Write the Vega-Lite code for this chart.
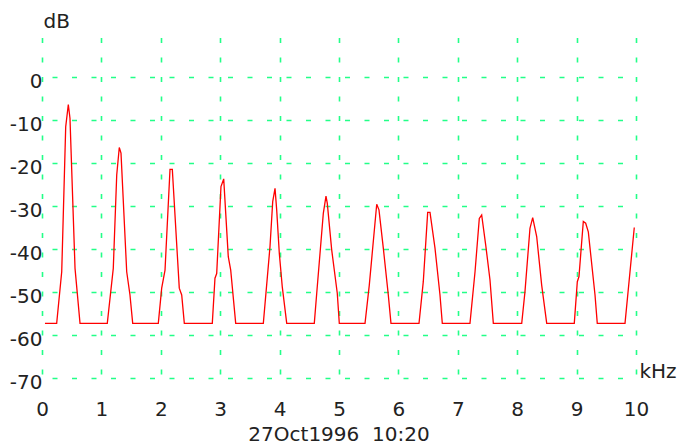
{
  "$schema": "https://vega.github.io/schema/vega-lite/v6.json",
  "width": 594,
  "height": 344,
  "autosize": {"type": "none"},
  "padding": {"left": 42, "top": 34, "right": 43, "bottom": 69},
  "background": "white",
  "config": {
    "view": {"stroke": null},
    "font": "DejaVu Sans"
  },
  "title": {
    "text": "27Oct1996\u00a0 10:20",
    "orient": "bottom",
    "anchor": "middle",
    "frame": "group",
    "fontSize": 20,
    "fontWeight": "normal",
    "font": "DejaVu Sans",
    "color": "#222222",
    "offset": 6
  },
  "data": {
    "values": [
      {"f": 0.05, "db": -57.3},
      {"f": 0.247, "db": -57.3},
      {"f": 0.332, "db": -45.3},
      {"f": 0.399, "db": -11.6},
      {"f": 0.443, "db": -6.4},
      {"f": 0.471, "db": -9.6},
      {"f": 0.556, "db": -44.5},
      {"f": 0.64, "db": -57.3},
      {"f": 1.099, "db": -57.3},
      {"f": 1.2, "db": -44.5},
      {"f": 1.258, "db": -22.8},
      {"f": 1.301, "db": -16.4},
      {"f": 1.33, "db": -17.7},
      {"f": 1.426, "db": -45.3},
      {"f": 1.481, "db": -50.7},
      {"f": 1.527, "db": -57.3},
      {"f": 1.958, "db": -57.3},
      {"f": 2.015, "db": -49.1},
      {"f": 2.071, "db": -44.9},
      {"f": 2.155, "db": -21.5},
      {"f": 2.194, "db": -21.5},
      {"f": 2.311, "db": -49.1},
      {"f": 2.352, "db": -50.7},
      {"f": 2.396, "db": -57.3},
      {"f": 2.867, "db": -57.3},
      {"f": 2.912, "db": -46.8},
      {"f": 2.941, "db": -45.7},
      {"f": 3.013, "db": -25.5},
      {"f": 3.059, "db": -23.7},
      {"f": 3.136, "db": -41.8},
      {"f": 3.177, "db": -44.9},
      {"f": 3.261, "db": -57.3},
      {"f": 3.726, "db": -57.3},
      {"f": 3.838, "db": -39.5},
      {"f": 3.884, "db": -29.0},
      {"f": 3.923, "db": -25.9},
      {"f": 3.951, "db": -30.9},
      {"f": 3.995, "db": -41.0},
      {"f": 4.045, "db": -48.8},
      {"f": 4.12, "db": -57.3},
      {"f": 4.584, "db": -57.3},
      {"f": 4.625, "db": -50.3},
      {"f": 4.736, "db": -31.7},
      {"f": 4.781, "db": -27.7},
      {"f": 4.803, "db": -29.4},
      {"f": 4.877, "db": -40.2},
      {"f": 4.971, "db": -50.3},
      {"f": 5.005, "db": -57.3},
      {"f": 5.438, "db": -57.3},
      {"f": 5.51, "db": -48.4},
      {"f": 5.635, "db": -29.6},
      {"f": 5.673, "db": -30.9},
      {"f": 5.746, "db": -39.8},
      {"f": 5.83, "db": -50.7},
      {"f": 5.875, "db": -57.3},
      {"f": 6.347, "db": -57.3},
      {"f": 6.419, "db": -47.6},
      {"f": 6.493, "db": -31.5},
      {"f": 6.532, "db": -31.5},
      {"f": 6.616, "db": -39.8},
      {"f": 6.7, "db": -50.7},
      {"f": 6.739, "db": -57.3},
      {"f": 7.205, "db": -57.3},
      {"f": 7.29, "db": -45.3},
      {"f": 7.362, "db": -32.9},
      {"f": 7.402, "db": -32.1},
      {"f": 7.47, "db": -39.1},
      {"f": 7.542, "db": -47.2},
      {"f": 7.598, "db": -57.3},
      {"f": 8.076, "db": -57.3},
      {"f": 8.131, "db": -49.9},
      {"f": 8.215, "db": -35.2},
      {"f": 8.261, "db": -32.7},
      {"f": 8.328, "db": -37.1},
      {"f": 8.412, "db": -48.4},
      {"f": 8.497, "db": -57.3},
      {"f": 8.961, "db": -57.3},
      {"f": 9.012, "db": -47.6},
      {"f": 9.04, "db": -46.4},
      {"f": 9.113, "db": -33.6},
      {"f": 9.153, "db": -34.0},
      {"f": 9.197, "db": -36.0},
      {"f": 9.31, "db": -50.7},
      {"f": 9.348, "db": -57.3},
      {"f": 9.815, "db": -57.3},
      {"f": 9.899, "db": -45.3},
      {"f": 9.971, "db": -35.0}
    ]
  },
  "mark": {"type": "line", "color": "#ff0000", "strokeWidth": 1.3, "clip": false},
  "encoding": {
    "x": {
      "field": "f",
      "type": "quantitative",
      "scale": {"domain": [0, 10], "nice": false, "zero": false},
      "axis": {
        "values": [0, 1, 2, 3, 4, 5, 6, 7, 8, 9, 10],
        "domain": false,
        "ticks": false,
        "labelFlush": false,
        "labelOverlap": false,
        "labelPadding": 21,
        "labelBaseline": "top",
        "labelFontSize": 20,
        "labelFont": "DejaVu Sans",
        "labelColor": "#222222",
        "labelExpr": "toString(datum.value)",
        "grid": true,
        "gridColor": "#22ff88",
        "gridWidth": 1.6,
        "gridDash": [5, 14.5],
        "gridDashOffset": 16,
        "title": "kHz",
        "titleFont": "DejaVu Sans",
        "titleFontSize": 20,
        "titleFontWeight": "normal",
        "titleColor": "#222222",
        "titleX": 597,
        "titleY": -1,
        "titleAlign": "left",
        "titleBaseline": "alphabetic",
        "titleAngle": 0
      }
    },
    "y": {
      "field": "db",
      "type": "quantitative",
      "scale": {"domain": [-70, 10], "nice": false, "zero": false},
      "axis": {
        "values": [0, -10, -20, -30, -40, -50, -60, -70],
        "domain": false,
        "ticks": false,
        "labelPadding": 0,
        "labelOffset": 4,
        "labelFontSize": 20,
        "labelFont": "DejaVu Sans",
        "labelColor": "#222222",
        "labelExpr": "toString(datum.value)",
        "grid": true,
        "gridColor": "#22ff88",
        "gridWidth": 1.6,
        "gridDash": [5, 14.5],
        "gridDashOffset": 9.5,
        "title": "dB",
        "titleFont": "DejaVu Sans",
        "titleFontSize": 20,
        "titleFontWeight": "normal",
        "titleColor": "#222222",
        "titleX": 1,
        "titleY": -7,
        "titleAlign": "left",
        "titleBaseline": "alphabetic",
        "titleAngle": 0
      }
    }
  }
}
